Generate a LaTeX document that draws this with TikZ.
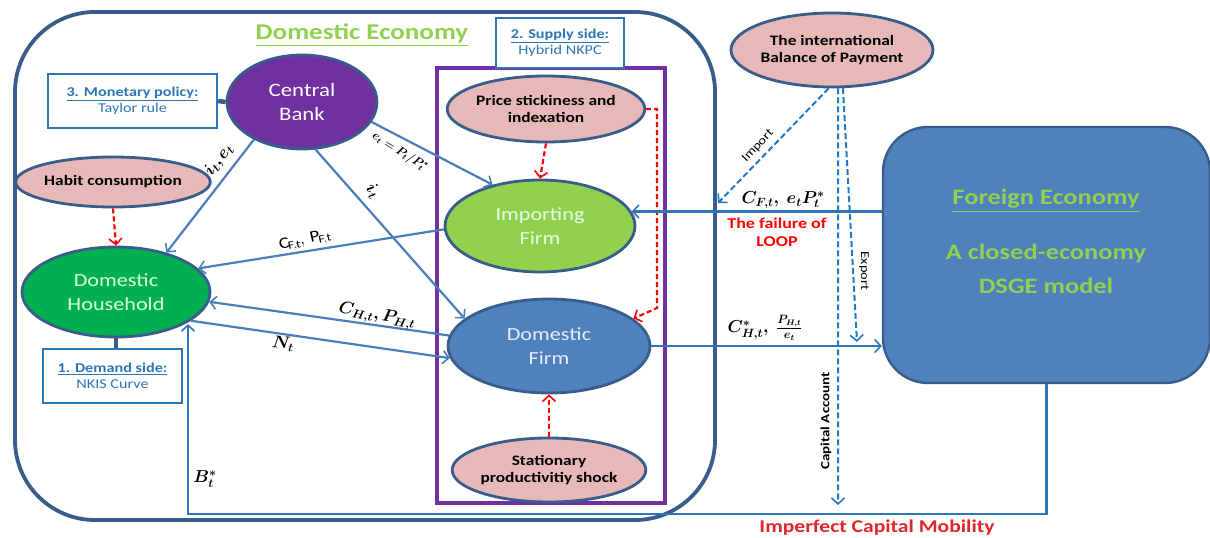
\documentclass[tikz,border=0pt]{standalone}
\usepackage{fontspec}
\setmainfont{Carlito}[FakeStretch=1.2]
\usepackage{amsmath,bm}
\usetikzlibrary{arrows.meta,shapes.geometric}
\definecolor{bord}{HTML}{385D8A}
\definecolor{pinkf}{HTML}{E6B9B8}
\definecolor{purp}{HTML}{7030A0}
\definecolor{grn}{HTML}{00B050}
\definecolor{lgrn}{HTML}{92D050}
\definecolor{blu}{HTML}{4F81BD}
\definecolor{lineblue}{HTML}{4A7EBB}
\definecolor{boxblue}{HTML}{2E75B6}
\definecolor{dashblue}{HTML}{2179C4}
\definecolor{redd}{HTML}{FF0000}
\definecolor{darkred}{HTML}{E0262B}
\newcommand{\fs}[1]{\fontsize{#1}{\fpeval{#1*1.2}}\selectfont}
\tikzset{
  ell/.style={ellipse, draw=bord, line width=2.8pt, inner sep=0pt, align=center},
  pinkell/.style={ell, fill=pinkf, font=\fs{14.5}\bfseries},
  infobox/.style={rectangle, draw=boxblue, line width=2.4pt, inner sep=0pt, align=center, text=boxblue, font=\fs{13.5}},
  tip/.style={-{Straight Barb[length=6pt,width=13pt,line width=1.6pt]}},
  conn/.style={draw=lineblue, line width=2.2pt, tip},
  fconn/.style={draw=boxblue, line width=2.2pt, tip},
  reddash/.style={draw=redd, line width=2.2pt, dash pattern=on 5pt off 3pt, tip},
  bluedash/.style={draw=dashblue, line width=2pt, dash pattern=on 6pt off 3pt, tip},
  mlab/.style={inner sep=1pt, font=\fs{17}},
}
\begin{document}
\begin{tikzpicture}[x=1pt,y=-1pt]
\useasboundingbox (0,0) rectangle (1210,538);
% outer domestic frame
\draw[bord, line width=3.8pt, rounded corners=80pt] (15,12) rectangle (715,520);
\node[text=lgrn, font=\fs{22.5}\bfseries] (title) at (362,35) {\underline{Domestic Economy}};
% supply side box and purple frame
\draw[purp, line width=3.2pt] (437,68) rectangle (665,503);
\node[infobox, fill=white, minimum width=128pt, minimum height=50pt] (sup) at (560,43)
  {\underline{\textbf{2. Supply side:}}\\Hybrid NKPC};
% nodes
\node[infobox, minimum width=169pt, minimum height=54pt] (mon) at (132.5,101)
  {\underline{\textbf{3. Monetary policy:}}\\Taylor rule};
\node[ell, fill=purp, text=white, font=\fs{19}, minimum width=150pt, minimum height=94pt] (cb) at (302,102) {Central\\[2pt]Bank};
\node[pinkell, minimum width=164pt, minimum height=50pt] (habit) at (113,182) {Habit consumption};
\node[ell, fill=grn, text=green!15, font=\fs{18.5}, minimum width=188pt, minimum height=90pt] (hh) at (116,292) {Domestic\\[2pt]Household};
\node[infobox, minimum width=139pt, minimum height=54pt] (dem) at (112.5,376)
  {\underline{\textbf{1. Demand side:}}\\NKIS Curve};
\node[pinkell, minimum width=162pt, minimum height=66pt] (price) at (546,109) {Price stickiness and\\indexation};
\node[ell, fill=lgrn, text=green!10!white, font=\fs{18.5}, minimum width=190pt, minimum height=92pt] (imp) at (540,226) {Importing\\[2pt]Firm};
\node[ell, fill=blu, text=blue!8!white, font=\fs{18.5}, minimum width=202pt, minimum height=94pt] (df) at (549,346) {Domestic\\[2pt]Firm};
\node[pinkell, minimum width=164pt, minimum height=64pt] (stat) at (549,470) {Stationary\\productivitiy shock};
\node[pinkell, minimum width=198pt, minimum height=74pt] (bop) at (832,50) {The international\\Balance of Payment};
\node[rectangle, rounded corners=45pt, fill=blu, draw=bord, line width=2.4pt, minimum width=327pt, minimum height=256pt] (fe) at (1046.5,255) {};
\node[text=lgrn, font=\fs{22}\bfseries] (fetitle) at (1046,201) {\underline{Foreign Economy}};
\node[align=center, text=lgrn, font=\fontsize{22}{34}\selectfont\bfseries] (fetext) at (1046,269)
  {A closed-economy\\DSGE model};
% attachments of info boxes
\draw[bord, line width=4.5pt] (mon.east) -- (cb.west);
\draw[bord, line width=4.5pt] (hh.south) -- (hh.south |- dem.north);
% central bank connectors
\draw[conn] (cb.-142) -- (hh.38);
\draw[conn] (cb.-16) -- (imp.139);
\draw[conn] (cb.-74) -- (df.162);
\draw[conn] (imp.182) -- (hh.16);
\draw[conn] (df.174) -- (hh.-6);
\draw[conn] (hh.-21) -- (df.-173);
% red dashed
\draw[reddash] (habit.south) -- (hh.north);
\draw[reddash] (price.south) -- (imp.north);
\draw[reddash] (stat.north) -- (df.south);
\coordinate (rbend) at (657,308);
\draw[reddash] (price.east) -| (rbend) -- (df.18);
% foreign connections
\draw[fconn] (imp.9 -| fe.west) -- (imp.9);
\draw[fconn] (df.east) -- (df.east -| fe.west);
\coordinate (bc) at (188,514);
\draw[fconn] (fe.south) |- (bc) -- (bc |- hh.-25);
% balance of payment dashed
\coordinate (impend) at (718,203);
\coordinate (expend) at (857,342);
\coordinate (capend) at (838,505);
\draw[bluedash] (bop.-95) -- (impend);
\draw[bluedash] (bop.-74) -- (expend);
\draw[bluedash] (bop.-81) -- (capend);
% math labels
\node[mlab, rotate=53] (l1) at (219,160) {$\bm{i_t, e_t}$};
\node[mlab, rotate=-32, font=\fs{12}] (l2) at (400,152) {$\bm{e_t = P_t/P_t^*}$};
\node[mlab, rotate=-52] (l3) at (373,191) {$\bm{i_t}$};
\node[mlab, rotate=12, font=\fs{16}] (l4) at (305,241) {$\mathrm{C_{F,t},\,P_{F,t}}$};
\node[mlab, rotate=-10] (l5) at (377,316) {$\bm{C_{H,t}, P_{H,t}}$};
\node[mlab, rotate=-5] (l6) at (283,344) {$\bm{N_t}$};
\node[mlab] (l7) at (205,479) {$\bm{B_t^*}$};
\node[mlab] (l8) at (783,200) {$\bm{C_{F,t},\ e_t P_t^*}$};
\node[mlab] (l9) at (765,328) {$\bm{C^*_{H,t},\ \frac{P_{H,t}}{e_t}}$};
% text labels
\node[align=center, text=redd, font=\fs{15}\bfseries] (loop) at (777,232) {The failure of\\LOOP};
\node[rotate=47, font=\fs{12}] (import) at (758,146) {Import};
\node[rotate=-90, font=\fs{12}] (export) at (864,271) {Export};
\node[rotate=90, font=\fs{12.5}\bfseries] (capacc) at (826,421) {Capital Account};
\node[text=darkred, font=\fs{18}\bfseries] (icm) at (877,528) {Imperfect Capital Mobility};
\end{tikzpicture}
\end{document}
